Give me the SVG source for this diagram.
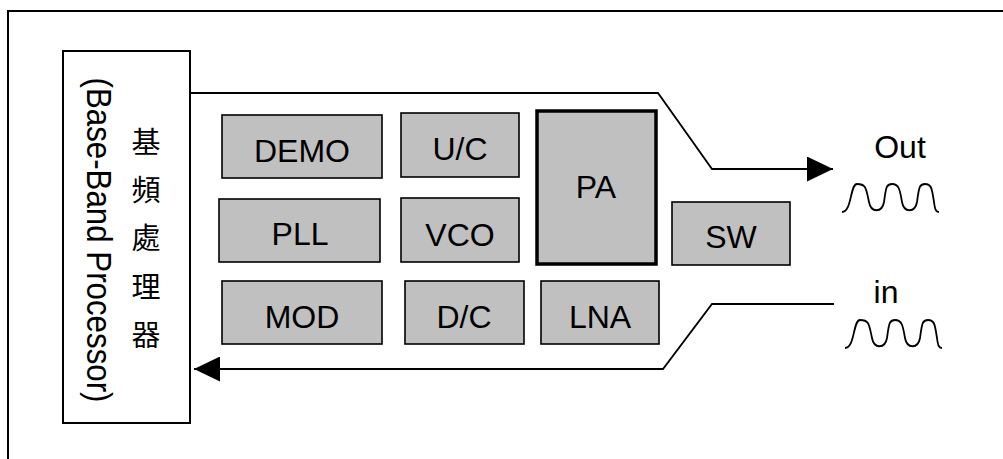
<svg xmlns="http://www.w3.org/2000/svg" width="1003" height="459" viewBox="0 0 1003 459">
  <style>
    .box { fill: #c0c0c0; stroke: #000; stroke-width: 1.6; }
    .lbl { font-family: "Liberation Sans", Arial, sans-serif; font-size: 32px; fill: #000; text-anchor: middle; }
    .cjk { font-family: "Noto Sans CJK TC", "Noto Sans CJK SC", sans-serif; font-size: 29px; fill: #000; text-anchor: middle; dominant-baseline: central; }
    .wire { fill: none; stroke: #000; stroke-width: 1.8; }
    .wave { fill: none; stroke: #000; stroke-width: 1.8; stroke-linejoin: round; }
  </style>
  <defs>
    <marker id="arrow" viewBox="0 0 26 25" refX="26" refY="12.5" markerWidth="26" markerHeight="25" markerUnits="userSpaceOnUse" orient="auto">
      <path d="M0,0 L26,12.5 L0,25 Z" fill="#000"/>
    </marker>
    <path id="wavepath" d="M842,212 C852,212 850,184 857,184 C866,184 866,188 869,202 C871,213 882,213 884,202 C886,188 886,184 892,184 C899,184 900,190 902,202 C904,213 915,213 917,202 C919,188 919,184 925,184 C932,184 932,190 934,202 C935,210 936,212 939,212"/>
  </defs>

  <rect x="0" y="0" width="1003" height="459" fill="#fff"/>
  <g id="frame">
    <rect x="8" y="11" width="1100" height="500" fill="none" stroke="#000" stroke-width="2"/>
  </g>

  <g id="baseband">
    <rect x="63" y="51" width="127" height="372" fill="#fff" stroke="#000" stroke-width="2"/>
    <text class="lbl" transform="translate(87,240) rotate(90)" x="0" y="0" textLength="325" lengthAdjust="spacingAndGlyphs" style="font-size:35px">(Base-Band Processor)</text>
    <text class="cjk" x="146" y="140">基</text>
    <text class="cjk" x="146" y="188">頻</text>
    <text class="cjk" x="146" y="236">處</text>
    <text class="cjk" x="146" y="285">理</text>
    <text class="cjk" x="146" y="333">器</text>
  </g>

  <g id="connectors">
    <polyline class="wire" points="190,93 658,93 712,169 833,169" marker-end="url(#arrow)"/>
    <polyline class="wire" points="834,304 712,304 663,369 194,369" marker-end="url(#arrow)"/>
  </g>

  <g id="demo"><rect class="box" x="222" y="115" width="160" height="63"/><text class="lbl" x="302" y="162">DEMO</text></g>
  <g id="pll"><rect class="box" x="219" y="199" width="161" height="63"/><text class="lbl" x="300" y="245">PLL</text></g>
  <g id="mod"><rect class="box" x="222" y="281" width="160" height="63"/><text class="lbl" x="302" y="328">MOD</text></g>
  <g id="uc"><rect class="box" x="401" y="113" width="118" height="64"/><text class="lbl" x="460" y="160">U/C</text></g>
  <g id="vco"><rect class="box" x="401" y="198" width="118" height="64"/><text class="lbl" x="460" y="246">VCO</text></g>
  <g id="dc"><rect class="box" x="405" y="281" width="119" height="63"/><text class="lbl" x="464" y="328">D/C</text></g>
  <g id="pa"><rect class="box" x="537" y="111" width="119" height="153" style="stroke-width:3.5"/><text class="lbl" x="596" y="198">PA</text></g>
  <g id="lna"><rect class="box" x="541" y="281" width="118" height="63"/><text class="lbl" x="600" y="328">LNA</text></g>
  <g id="sw"><rect class="box" x="672" y="202" width="118" height="63"/><text class="lbl" x="731" y="248">SW</text></g>

  <g id="out">
    <text class="lbl" x="900" y="158">Out</text>
    <use href="#wavepath" class="wave"/>
  </g>
  <g id="in">
    <text class="lbl" x="886" y="303">in</text>
    <use href="#wavepath" class="wave" transform="translate(3,136)"/>
  </g>
</svg>
